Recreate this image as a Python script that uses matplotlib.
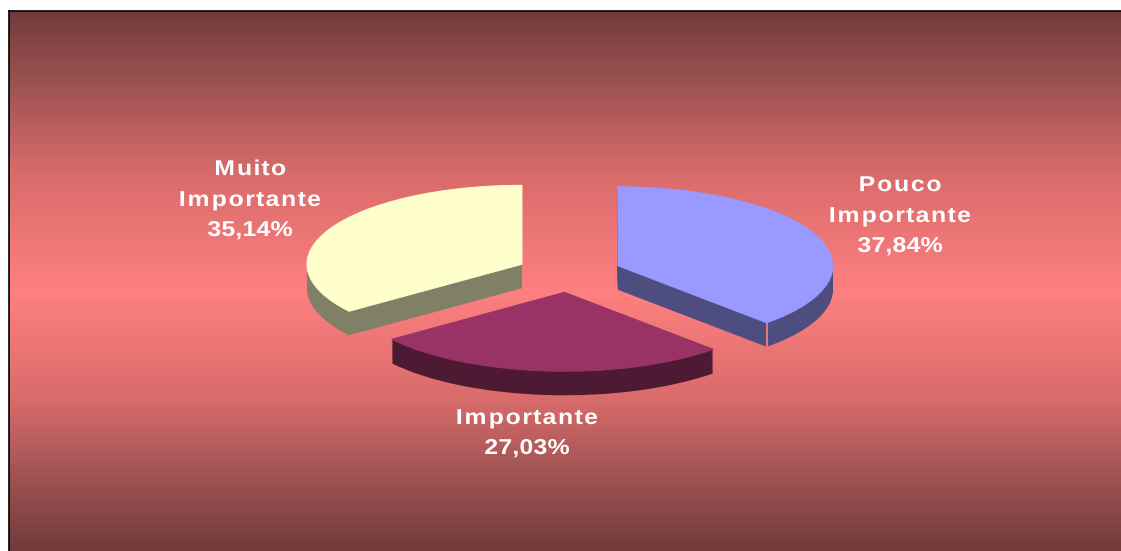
"""Exploded pseudo-3D pie over a vertical gradient, saved as out.png."""
import numpy as np
import matplotlib
matplotlib.use("Agg")
import matplotlib.pyplot as plt
import matplotlib.patheffects as pe
from matplotlib.colors import LinearSegmentedColormap
from matplotlib.path import Path
from matplotlib.transforms import IdentityTransform

W, H = 1121, 551

categories = ["Pouco\nImportante", "Importante", "Muito\nImportante"]
percent_labels = ["37,84%", "27,03%", "35,14%"]
values = [37.84, 27.03, 35.14]
top_colors = ["#9999ff", "#993366", "#ffffcc"]
side_colors = ["#4d4d80", "#4d1933", "#808066"]

# pie geometry in image pixels
CX, CY = 569, 273
RX, RY = 215, 79
DEPTH = 24
EXPLODE = 0.245

grad_stops = [0, 0.13, 0.3, 0.52, 0.72, 0.87, 1]
grad_colors = ["#733b3b", "#9c5252", "#d96b6b", "#ff8080",
               "#d96b6b", "#9c5252", "#733b3b"]

# x centre, baseline of last name line, baseline of the percent line
label_pos = [(900, 222, 252), (527, 424, 454), (250, 206, 236)]


class WideText(pe.AbstractPathEffect):
    """Stretch a text line in x and widen the gaps between its glyph contours."""

    def __init__(self, stretch, k):
        self.stretch = stretch
        self.k = k

    def draw_path(self, renderer, gc, tpath, affine, rgbFace=None):
        verts = affine.transform(tpath.vertices)
        codes = tpath.codes
        mid = (verts[:, 0].min() + verts[:, 0].max()) / 2
        verts[:, 0] = mid + self.stretch * (verts[:, 0] - mid)
        starts = list(np.flatnonzero(codes == Path.MOVETO)) + [len(verts)]
        for a, b in zip(starts[:-1], starts[1:]):
            c = (verts[a:b, 0].min() + verts[a:b, 0].max()) / 2
            verts[a:b, 0] += self.k * (c - mid)
        renderer.draw_path(gc, Path(verts, codes), IdentityTransform(), rgbFace)


fig = plt.figure(figsize=(W / 100, H / 100), dpi=100, facecolor="white")

# background panel with the black frame on top and left
bg = fig.add_axes([9 / W, 0, (W - 9) / W, (H - 11) / H])
cmap = LinearSegmentedColormap.from_list("bg", list(zip(grad_stops, grad_colors)))
bg.imshow(np.linspace(0, 1, 540).reshape(-1, 1), aspect="auto", cmap=cmap)
bg.set_xticks([])
bg.set_yticks([])
for side in ["right", "bottom"]:
    bg.spines[side].set_visible(False)
for side in ["left", "top"]:
    bg.spines[side].set_linewidth(1.2)
    bg.spines[side].set_color("black")

# transparent axes: one data unit = RX px in x and RY px in y
ax = fig.add_axes([0, 0, 1, 1], facecolor="none")
explode = [EXPLODE] * len(values)
y_step = 1 / RY
for i in range(DEPTH, 0, -1):
    ax.pie(values, explode=explode, colors=side_colors, startangle=90,
           counterclock=False, center=(0, -i * y_step), radius=1,
           wedgeprops=dict(linewidth=0))
wedges, _ = ax.pie(values, explode=explode, colors=top_colors, startangle=90,
                   counterclock=False, center=(0, 0), radius=1)
for wedge, color in zip(wedges, top_colors):
    # same colour edge hides the dark fringe of the side layers
    wedge.set_edgecolor(color)
    wedge.set_linewidth(0.7)
ax.set_aspect("auto")
ax.set_xlim(-CX / RX, (W - CX) / RX)
ax.set_ylim(-(H - CY) / RY, CY / RY)
ax.axis("off")

# thin slit on the front corner of the blue slice
theta = np.deg2rad(90 - 360 * values[0] / sum(values))
mid = np.deg2rad(90 - 180 * values[0] / sum(values))
sx = EXPLODE * np.cos(mid) + np.cos(theta)
sy = EXPLODE * np.sin(mid) + np.sin(theta)
ax.plot([sx, sx], [sy, sy - DEPTH * y_step], color="#ff8080", lw=1.2,
        solid_capstyle="butt")

style = dict(ha="center", va="baseline", color="white", fontsize=15.5,
             fontweight="bold", family="Liberation Sans", linespacing=1.62)
for name, pct, (px, y_name, y_pct) in zip(categories, percent_labels, label_pos):
    fig.text(px / W, 1 - y_name / H, name, path_effects=[WideText(1.15, 0.12)], **style)
    fig.text(px / W, 1 - y_pct / H, pct, path_effects=[WideText(1.15, 0.02)], **style)

fig.savefig("out.png", dpi=100)
